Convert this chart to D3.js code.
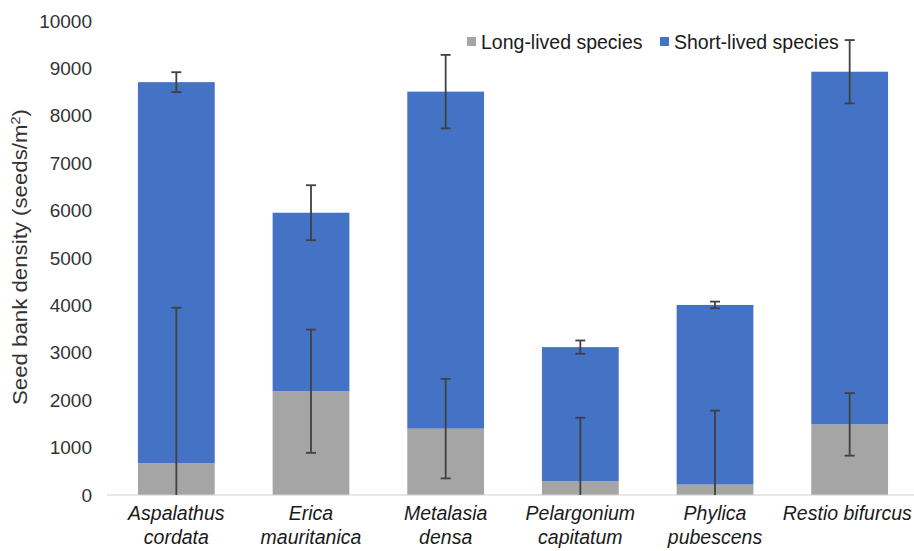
<!DOCTYPE html>
<html>
<head>
<meta charset="utf-8">
<script src="https://cdn.jsdelivr.net/npm/d3@7"></script>
<style>
  html, body { margin: 0; padding: 0; background: #ffffff; }
  svg { display: block; font-family: "Liberation Sans", Arial, sans-serif; }
</style>
</head>
<body>
<svg id="chart" width="914" height="551"></svg>
<script>
const categories = [
  ["Aspalathus", "cordata"],
  ["Erica", "mauritanica"],
  ["Metalasia", "densa"],
  ["Pelargonium", "capitatum"],
  ["Phylica", "pubescens"],
  ["Restio bifurcus"]
];
const longLived = [670, 2190, 1400, 290, 220, 1490];
const longLivedErr = [3280, 1300, 1050, 1340, 1560, 660];
const shortLived = [8040, 3765, 7110, 2830, 3790, 7440];
const totalErr = [210, 580, 775, 140, 70, 668];
const seriesNames = ["Long-lived species", "Short-lived species"];
const yTicks = [0, 1000, 2000, 3000, 4000, 5000, 6000, 7000, 8000, 9000, 10000];

const svg = d3.select("#chart");
const colors = { long: "#a5a5a5", short: "#4472c4" };

const x = d3.scaleBand()
  .domain(d3.range(categories.length))
  .range([109, 917])
  .paddingInner(0.43)
  .paddingOuter(0.215);

const y = d3.scaleLinear().domain([0, 10000]).range([495, 21]);

// Y axis labels
const yAxis = d3.axisLeft(y).tickValues(yTicks).tickSize(0).tickPadding(0).tickFormat(d3.format("d"));
const gy = svg.append("g").attr("transform", "translate(92,0)").call(yAxis);
gy.select(".domain").remove();
gy.selectAll("text")
  .attr("font-size", 19)
  .attr("fill", "#333333")
  .attr("font-family", "Liberation Sans, Arial, sans-serif");

// Y title
const title = svg.append("text")
  .attr("transform", "translate(27,257) rotate(-90)")
  .attr("text-anchor", "middle")
  .attr("font-size", 20)
  .attr("fill", "#333333")
  .attr("textLength", 296)
  .attr("lengthAdjust", "spacingAndGlyphs");
title.append("tspan").text("Seed bank density (seeds/m");
title.append("tspan").attr("baseline-shift", "super").attr("font-size", 13).text("2");
title.append("tspan").text(")");

// Bars
const g = svg.append("g");
categories.forEach((c, i) => {
  g.append("rect")
    .attr("x", x(i)).attr("width", x.bandwidth())
    .attr("y", y(longLived[i])).attr("height", y(0) - y(longLived[i]))
    .attr("fill", colors.long);
  const tot = longLived[i] + shortLived[i];
  g.append("rect")
    .attr("x", x(i)).attr("width", x.bandwidth())
    .attr("y", y(tot)).attr("height", y(longLived[i]) - y(tot))
    .attr("fill", colors.short);
});

// Baseline
svg.append("line")
  .attr("x1", 107).attr("x2", 914)
  .attr("y1", y(0)).attr("y2", y(0))
  .attr("stroke", "#d0d0d0").attr("stroke-width", 1.2);

// Error bars
function errBar(cx, v, e) {
  const lo = Math.max(0, v - e), hi = v + e;
  const eg = svg.append("g").attr("stroke", "#404040").attr("stroke-width", 1.8);
  eg.append("line").attr("x1", cx).attr("x2", cx).attr("y1", y(hi)).attr("y2", y(lo));
  eg.append("line").attr("x1", cx - 5).attr("x2", cx + 5).attr("y1", y(hi)).attr("y2", y(hi));
  if (v - e > 0) {
    eg.append("line").attr("x1", cx - 5).attr("x2", cx + 5).attr("y1", y(lo)).attr("y2", y(lo));
  }
}
categories.forEach((c, i) => {
  const cx = x(i) + x.bandwidth() / 2;
  errBar(cx, longLived[i], longLivedErr[i]);
  errBar(cx, longLived[i] + shortLived[i], totalErr[i]);
});

// X labels
categories.forEach((c, i) => {
  let cx = x(i) + x.bandwidth() / 2;
  const t = svg.append("text")
    .attr("text-anchor", "middle")
    .attr("font-size", 19.5)
    .attr("font-style", "italic")
    .attr("fill", "#1a1a1a");
  c.forEach((line, k) => {
    t.append("tspan").attr("x", cx).attr("y", 520 + k * 24).text(line);
  });
  // keep the last label inside the picture
  const bb = t.node().getBBox();
  if (bb.x + bb.width > 912) {
    t.selectAll("tspan").attr("x", cx - (bb.x + bb.width - 912));
  }
});

// Legend
const legendItems = [
  { name: seriesNames[0], color: colors.long, x: 467 },
  { name: seriesNames[1], color: colors.short, x: 660 }
];
legendItems.forEach(li => {
  svg.append("rect").attr("x", li.x).attr("y", 37).attr("width", 9).attr("height", 9).attr("fill", li.color);
  svg.append("text").attr("x", li.x + 14).attr("y", 48.5)
    .attr("font-size", 19.5).attr("fill", "#1a1a1a").text(li.name);
});
</script>
</body>
</html>
